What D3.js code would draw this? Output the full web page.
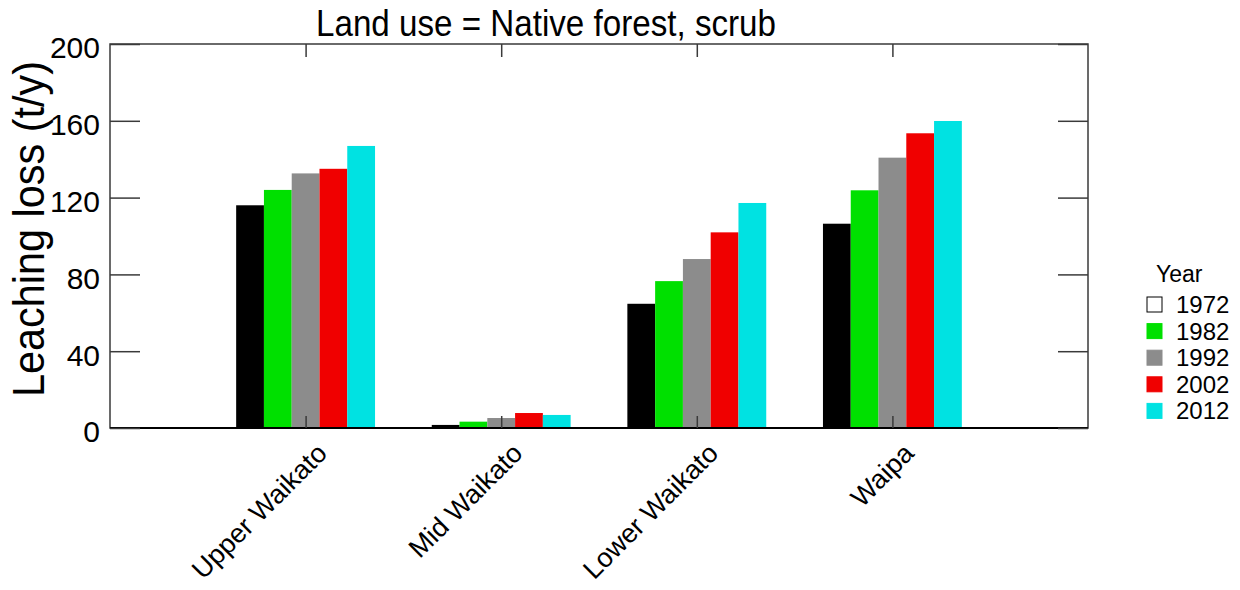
<!DOCTYPE html>
<html><head><meta charset="utf-8">
<script src="https://cdn.jsdelivr.net/npm/d3@7/dist/d3.min.js"></script>
<style>
html,body{margin:0;padding:0;background:#fff;}
svg{display:block;font-family:"Liberation Sans",Arial,sans-serif;}
</style></head>
<body><svg id="chart" width="1240" height="590"></svg>
<script>
const categories = ["Upper Waikato", "Mid Waikato", "Lower Waikato", "Waipa"];
const years = ["1972", "1982", "1992", "2002", "2012"];
const v1972 = [116, 1.6, 64.7, 106.4];
const v1982 = [124, 3.3, 76.5, 123.8];
const v1992 = [132.6, 5.2, 88, 140.8];
const v2002 = [135, 7.8, 101.9, 153.5];
const v2012 = [146.9, 6.8, 117.2, 159.9];
const yTicks = [0, 40, 80, 120, 160, 200];
const colors = ["#000000", "#00e000", "#8c8c8c", "#f00000", "#00e2e2"];
const legendFills = ["#ffffff", "#00e000", "#8c8c8c", "#f00000", "#00e2e2"];
const title = "Land use = Native forest, scrub";
const yLabel = "Leaching loss (t/y)";
const legendTitle = "Year";

const series = [v1972, v1982, v1992, v2002, v2012];
const svg = d3.select("#chart");
const L = 110, R = 1088, T = 44, B = 428;

const x = d3.scalePoint().domain(categories).range([L, R]).padding(1);
const groupW = x.step() * 0.71;
const xs = d3.scaleBand().domain(years).range([-groupW / 2, groupW / 2]).padding(0);
const y = d3.scaleLinear().domain([0, 200]).range([B, T]);

// bars
years.forEach((yr, j) => {
  svg.append("g").selectAll("rect").data(categories).join("rect")
    .attr("x", c => x(c) + xs(yr))
    .attr("width", xs.bandwidth())
    .attr("y", (c, i) => y(series[j][i]))
    .attr("height", (c, i) => y(0) - y(series[j][i]))
    .attr("fill", colors[j]);
});

// frame
const frameColor = "#3a3a3a";
svg.append("rect").attr("x", L).attr("y", T).attr("width", R - L).attr("height", B - T)
  .attr("fill", "none").attr("stroke", frameColor).attr("stroke-width", 1.5);
svg.append("line").attr("x1", L).attr("x2", R).attr("y1", B).attr("y2", B)
  .attr("stroke", "#000").attr("stroke-width", 2);

// y axes (left & right, ticks inside)
const yl = svg.append("g").attr("transform", `translate(${L},0)`)
  .call(d3.axisRight(y).tickValues(yTicks).tickSize(30).tickFormat(""));
yl.select(".domain").remove();
yl.selectAll("line").attr("stroke", frameColor).attr("stroke-width", 1.5);
const yr = svg.append("g").attr("transform", `translate(${R},0)`)
  .call(d3.axisLeft(y).tickValues(yTicks).tickSize(30).tickFormat(""));
yr.select(".domain").remove();
yr.selectAll("line").attr("stroke", frameColor).attr("stroke-width", 1.5);

svg.append("g").selectAll("text").data(yTicks).join("text")
  .attr("x", L - 10).attr("y", d => y(d)).attr("dy", "0.48em")
  .attr("text-anchor", "end").attr("font-size", 30).attr("fill", "#000")
  .text(d => d);

// x axes ticks (top & bottom, inside)
const xt = svg.append("g").attr("transform", `translate(0,${T})`)
  .call(d3.axisBottom(x).tickSize(13).tickFormat(""));
xt.select(".domain").remove();
xt.selectAll("line").attr("stroke", frameColor).attr("stroke-width", 1.5);
const xb = svg.append("g").attr("transform", `translate(0,${B})`)
  .call(d3.axisTop(x).tickSize(12).tickFormat(""));
xb.select(".domain").remove();
xb.selectAll("line").attr("stroke", frameColor).attr("stroke-width", 1.5);

// x labels rotated
svg.append("g").selectAll("text").data(categories).join("text")
  .attr("transform", c => `translate(${x(c) + 23},${B + 27}) rotate(-45)`)
  .attr("text-anchor", "end").attr("font-size", 27).attr("fill", "#000")
  .text(c => c);

// title
svg.append("text").attr("x", 546).attr("y", 36).attr("text-anchor", "middle")
  .attr("font-size", 36).attr("fill", "#000")
  .attr("textLength", 460).attr("lengthAdjust", "spacingAndGlyphs")
  .text(title);

// y label
svg.append("text").attr("transform", `translate(44,229) rotate(-90)`)
  .attr("text-anchor", "middle").attr("font-size", 45).attr("fill", "#000")
  .attr("textLength", 336).attr("lengthAdjust", "spacingAndGlyphs")
  .text(yLabel);

// legend
const lg = svg.append("g");
lg.append("text").attr("x", 1156).attr("y", 282).attr("font-size", 23).attr("fill", "#000").text(legendTitle);
const ly = d3.scaleBand().domain(years).range([296, 429]);
lg.selectAll("rect").data(years).join("rect")
  .attr("x", 1147).attr("y", d => ly(d) + 1).attr("width", 15).attr("height", 15)
  .attr("fill", (d, i) => legendFills[i])
  .attr("stroke", (d, i) => i === 0 ? "#000" : legendFills[i]).attr("stroke-width", 1);
lg.selectAll("text.l").data(years).join("text").attr("class", "l")
  .attr("x", 1176).attr("y", d => ly(d) + 17).attr("font-size", 24).attr("fill", "#000")
  .text(d => d);
</script></body></html>
